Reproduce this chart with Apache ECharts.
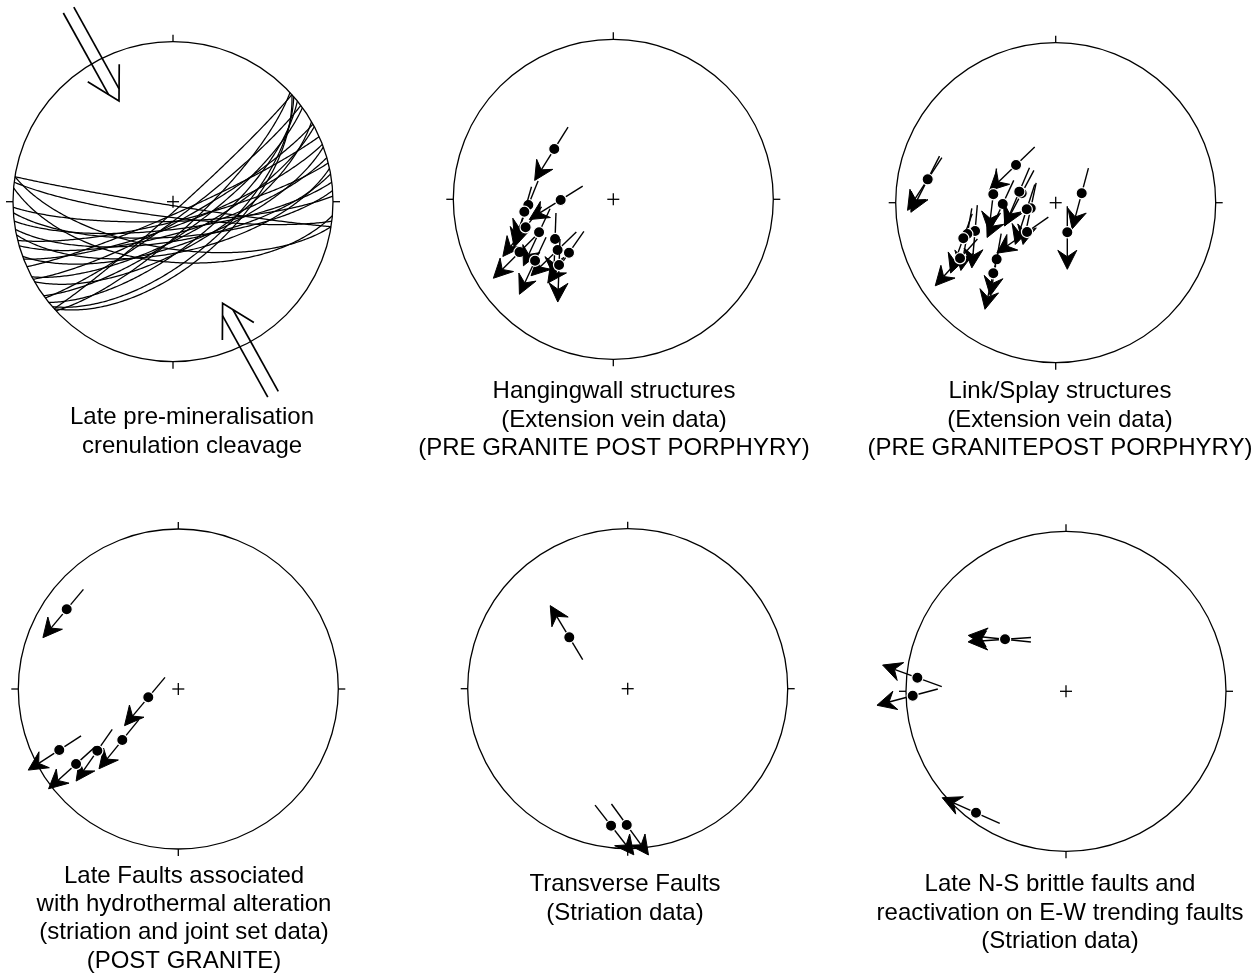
<!DOCTYPE html>
<html><head><meta charset="utf-8">
<script src="https://cdn.jsdelivr.net/npm/echarts@6/dist/echarts.min.js"></script>
<style>html,body{margin:0;padding:0;background:#fff}#c{width:1260px;height:976px}</style>
</head><body><div id="c"></div>
<script>
// ---------------- DATA ----------------
// Panel 1: crenulation cleavage planes [strike (RHR, deg), dip (deg)]
const cleavagePlanes = [
  [99, 88], [97, 82], [95, 59], [99, 66], [88, 80], [86, 72], [83, 76], [80, 70],
  [78, 64], [76, 80], [74, 74], [70, 68], [69, 78], [66, 84], [62, 72], [61, 80],
  [60, 66], [54, 74], [53, 82], [51, 68], [49, 62], [48, 86], [47, 76], [48, 59]
];
// Panel 1: shortening direction arrows [tip x, tip y (unit net), azimuth of arrow]
const compressionArrows = [[-0.3375, 0.629, 151], [0.31, -0.635, 331]];
// Slip / extension arrows [x, y (unit net, E/N), azimuth of arrow (deg)]
const hangingwallArrows = [
  [-0.369, 0.314, 212], [-0.329, -0.004, 238], [-0.531, -0.036, 202], [-0.556, -0.078, 196],
  [-0.548, -0.175, 218], [-0.586, -0.330, 225], [-0.464, -0.206, 205], [-0.364, -0.248, 182],
  [-0.348, -0.317, 226], [-0.277, -0.334, 215], [-0.489, -0.384, 205], [-0.339, -0.411, 182]
];
const linkSplayArrows = [
  [-0.800, 0.146, 207], [-0.800, 0.146, 213], [-0.248, 0.236, 226], [0.1625, 0.059, 195],
  [0.0725, -0.185, 180], [-0.390, 0.0525, 187], [-0.331, -0.008, 205], [-0.2125, 0.059, 208],
  [-0.2275, 0.069, 203], [-0.156, -0.035, 192], [-0.181, -0.041, 198], [-0.179, -0.183, 235],
  [-0.504, -0.177, 185], [-0.5525, -0.196, 190], [-0.5775, -0.2225, 200], [-0.598, -0.3475, 222],
  [-0.369, -0.354, 190], [-0.390, -0.441, 193]
];
const lateFaultArrows = [
  [-0.6975, 0.498, 220], [-0.1875, -0.052, 220], [-0.350, -0.319, 219],
  [-0.506, -0.386, 215], [-0.639, -0.469, 228], [-0.744, -0.381, 237]
];
const transverseArrows = [[-0.365, 0.321, 329], [-0.104, -0.856, 142], [-0.006, -0.852, 144]];
const nsFaultArrows = [
  [-0.381, 0.325, 276], [-0.381, 0.325, 266], [-0.929, 0.085, 290],
  [-0.958, -0.0275, 255], [-0.5625, -0.759, 294]
];
const panelLabels = [
  ['Late pre-mineralisation', 'crenulation cleavage'],
  ['Hangingwall structures', '(Extension vein data)', '(PRE GRANITE POST PORPHYRY)'],
  ['Link/Splay structures', '(Extension vein data)', '(PRE GRANITEPOST PORPHYRY)'],
  ['Late Faults associated', 'with hydrothermal alteration', '(striation and joint set data)', '(POST GRANITE)'],
  ['Transverse Faults', '(Striation data)'],
  ['Late N-S brittle faults and', 'reactivation on E-W trending faults', '(Striation data)']
];

// ---------------- LAYOUT ----------------
const R = 160;
const centers = [[173, 201.7], [613.3, 199.3], [1055.7, 202.7], [178.3, 689], [627.7, 688.7], [1066, 691.3]];
const labelPos = [[192, 432], [614, 420], [1060, 420], [184, 918.5], [625, 899], [1060, 913]];
const INK = '#000';

function renderFrame(params, api) {
  const c = api.coord([0, 0]);
  const r = api.coord([1, 0])[0] - c[0];
  const t = 7, k = 6;
  const st = { stroke: INK, lineWidth: 1.3, fill: null };
  return { type: 'group', children: [
    { type: 'circle', shape: { cx: c[0], cy: c[1], r: r }, style: st },
    { type: 'line', shape: { x1: c[0], y1: c[1] - r - t, x2: c[0], y2: c[1] - r }, style: st },
    { type: 'line', shape: { x1: c[0], y1: c[1] + r, x2: c[0], y2: c[1] + r + t }, style: st },
    { type: 'line', shape: { x1: c[0] - r - t, y1: c[1], x2: c[0] - r, y2: c[1] }, style: st },
    { type: 'line', shape: { x1: c[0] + r, y1: c[1], x2: c[0] + r + t, y2: c[1] }, style: st },
    { type: 'line', shape: { x1: c[0] - k, y1: c[1], x2: c[0] + k, y2: c[1] }, style: st },
    { type: 'line', shape: { x1: c[0], y1: c[1] - k, x2: c[0], y2: c[1] + k }, style: st }
  ]};
}

function renderPlane(params, api) {
  const s = api.value(0) * Math.PI / 180, d = api.value(1) * Math.PI / 180;
  const S = [Math.sin(s), Math.cos(s), 0];
  const dd = s + Math.PI / 2;
  const D = [Math.sin(dd) * Math.cos(d), Math.cos(dd) * Math.cos(d), Math.sin(d)];
  const pts = [];
  for (let i = 0; i <= 180; i++) {
    const a = i * Math.PI / 180, ca = Math.cos(a), sa = Math.sin(a);
    const v = [ca * S[0] + sa * D[0], ca * S[1] + sa * D[1], ca * S[2] + sa * D[2]];
    const f = Math.sqrt(1 / (1 + Math.max(0, v[2])));
    pts.push(api.coord([v[0] * f, v[1] * f]));
  }
  return { type: 'polyline', shape: { points: pts }, style: { fill: null, stroke: INK, lineWidth: 1.25 } };
}

function renderBigArrow(params, api) {
  const tip = api.coord([api.value(0), api.value(1)]);
  const az = api.value(2) * Math.PI / 180;
  const u = [Math.sin(az), -Math.cos(az)];
  const n = [-u[1], u[0]];
  const len = 104, hl = 32, hw = 18, sp = 6;
  const P = (al, pe) => [tip[0] - al * u[0] + pe * n[0], tip[1] - al * u[1] + pe * n[1]];
  const st = { stroke: INK, lineWidth: 1.7, fill: null };
  const se = hl * sp / hw;
  return { type: 'group', children: [
    { type: 'polyline', shape: { points: [P(hl, hw), P(0, 0), P(hl, -hw)] }, style: st },
    { type: 'line', shape: { x1: P(len, sp)[0], y1: P(len, sp)[1], x2: P(se, sp)[0], y2: P(se, sp)[1] }, style: st },
    { type: 'line', shape: { x1: P(len, -sp)[0], y1: P(len, -sp)[1], x2: P(se, -sp)[0], y2: P(se, -sp)[1] }, style: st }
  ]};
}

function renderArrow(params, api) {
  const p = api.coord([api.value(0), api.value(1)]);
  const az = api.value(2) * Math.PI / 180;
  const u = [Math.sin(az), -Math.cos(az)];
  const n = [-u[1], u[0]];
  const tailL = 26, headL = 37, L = 19, W = 9.5, N = 12.5;
  const tail = [p[0] - tailL * u[0], p[1] - tailL * u[1]];
  const tip = [p[0] + headL * u[0], p[1] + headL * u[1]];
  const Q = (al, pe) => [tip[0] - al * u[0] + pe * n[0], tip[1] - al * u[1] + pe * n[1]];
  const nt = Q(N, 0);
  return { type: 'group', children: [
    { type: 'line', shape: { x1: tail[0], y1: tail[1], x2: nt[0], y2: nt[1] }, style: { stroke: INK, lineWidth: 1.4 } },
    { type: 'polygon', shape: { points: [tip, Q(L, W), nt, Q(L, -W)] }, style: { fill: INK, stroke: INK, lineWidth: 1 } },
    { type: 'circle', shape: { cx: p[0], cy: p[1], r: 5.6 }, style: { fill: INK, stroke: '#fff', lineWidth: 1.2 } }
  ]};
}

const grids = [], xAxes = [], yAxes = [], series = [];
centers.forEach((c, i) => {
  grids.push({ left: c[0] - R, top: c[1] - R, width: 2 * R, height: 2 * R, show: false });
  xAxes.push({ gridIndex: i, type: 'value', min: -1, max: 1, show: false });
  yAxes.push({ gridIndex: i, type: 'value', min: -1, max: 1, show: false });
  series.push({ type: 'custom', xAxisIndex: i, yAxisIndex: i, clip: false, silent: true,
    renderItem: renderFrame, data: [[0, 0]], z: 1 });
});
series.push({ type: 'custom', xAxisIndex: 0, yAxisIndex: 0, clip: false, silent: true, z: 2,
  renderItem: renderPlane, data: cleavagePlanes, encode: { x: [], y: [] } });
series.push({ type: 'custom', xAxisIndex: 0, yAxisIndex: 0, clip: false, silent: true, z: 3,
  renderItem: renderBigArrow, data: compressionArrows });
[hangingwallArrows, linkSplayArrows, lateFaultArrows, transverseArrows, nsFaultArrows].forEach((arr, j) => {
  series.push({ type: 'custom', xAxisIndex: j + 1, yAxisIndex: j + 1, clip: false, silent: true, z: 3,
    renderItem: renderArrow, data: arr });
});

const graphics = panelLabels.map((lines, i) => ({
  type: 'text', x: labelPos[i][0], y: labelPos[i][1], silent: true,
  style: { text: lines.join('\n'), align: 'center', verticalAlign: 'middle', lineHeight: 28.3,
    font: '24px "Liberation Sans", Arial, sans-serif', fill: INK }
}));

const chart = echarts.init(document.getElementById('c'), null, { renderer: 'canvas' });
chart.setOption({
  backgroundColor: '#fff', animation: false,
  grid: grids, xAxis: xAxes, yAxis: yAxes, series: series, graphic: graphics
});
</script></body></html>
